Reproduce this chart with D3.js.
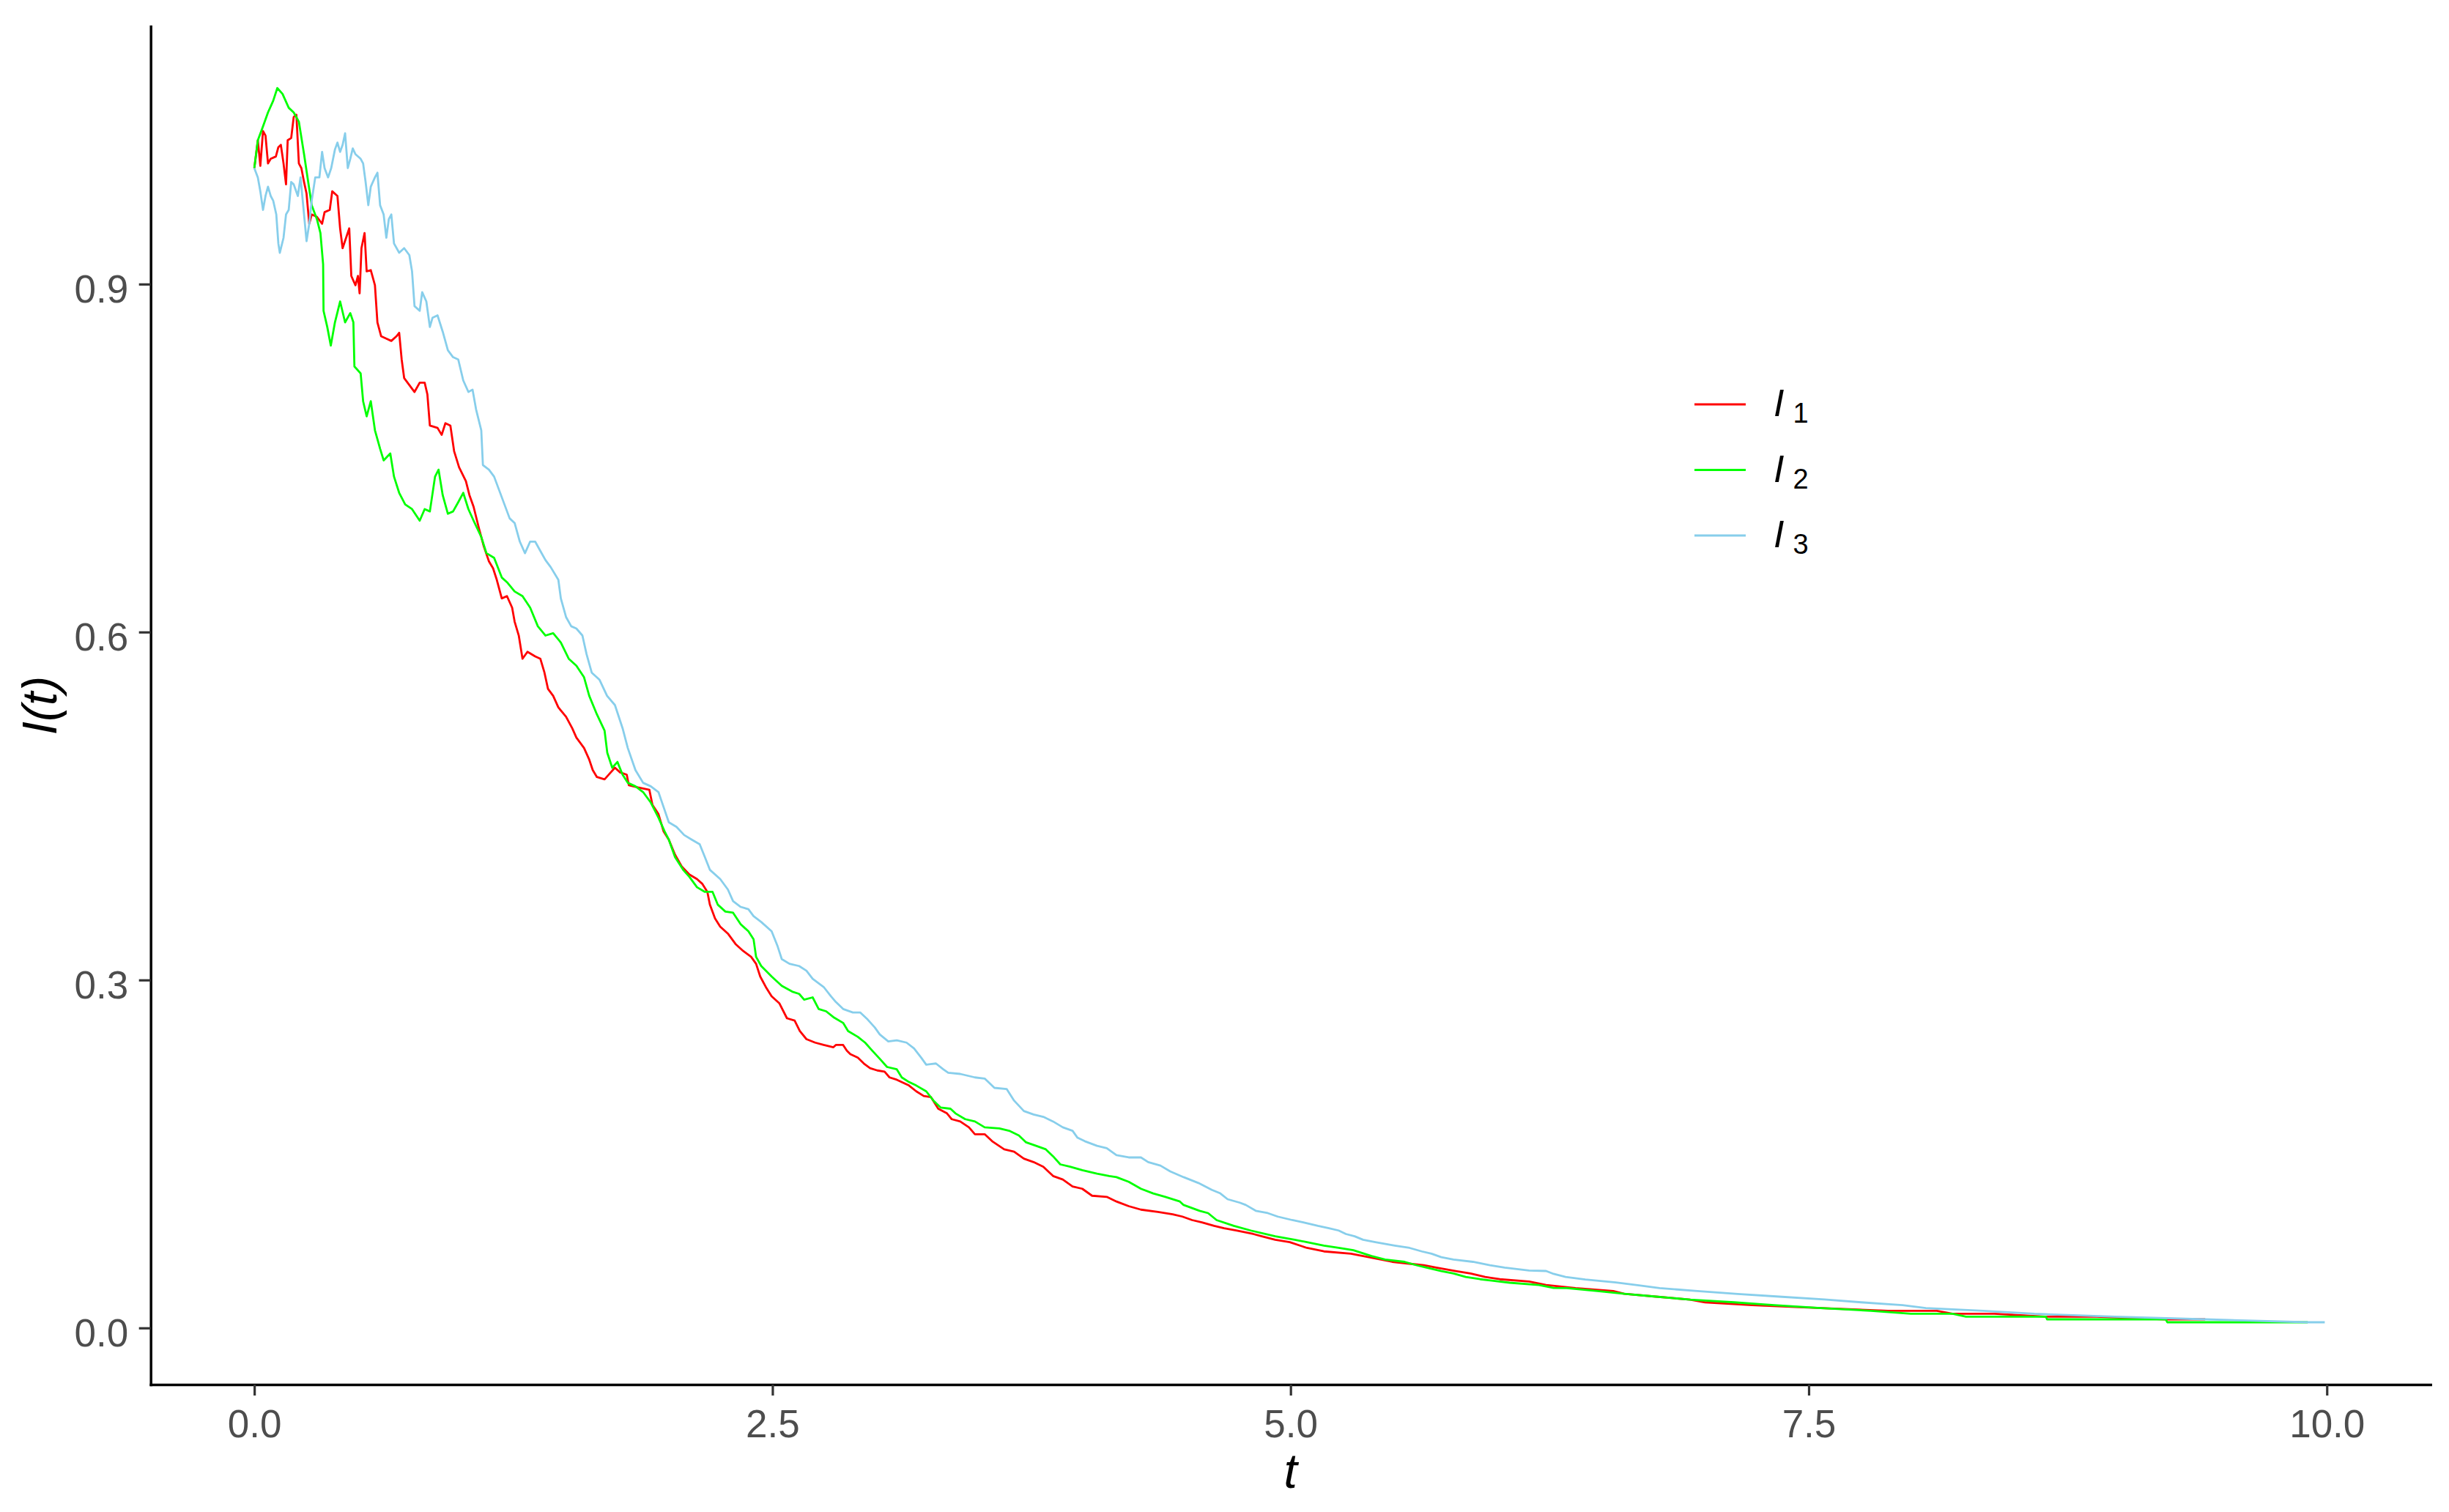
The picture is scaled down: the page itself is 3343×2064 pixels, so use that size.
<!DOCTYPE html>
<html>
<head>
<meta charset="utf-8">
<script src="https://cdn.jsdelivr.net/npm/d3@7"></script>
<style>
  body { margin: 0; background: #fff; }
  text { font-family: "Liberation Sans", Arial, sans-serif; }
</style>
</head>
<body>
<svg id="chart"></svg>
<script>
// values, [t, I(t)]
var seriesI1 = [[0,1.000],[0.017,1.024],[0.029,1.002],[0.042,1.032],[0.054,1.028],[0.066,1.004],[0.079,1.008],[0.104,1.010],[0.116,1.018],[0.128,1.020],[0.141,1.004],[0.153,0.986],[0.161,1.024],[0.178,1.026],[0.190,1.044],[0.203,1.046],[0.215,1.004],[0.227,1.000],[0.240,0.988],[0.252,0.978],[0.265,0.952],[0.277,0.960],[0.302,0.958],[0.327,0.952],[0.339,0.962],[0.364,0.964],[0.376,0.980],[0.401,0.976],[0.414,0.948],[0.426,0.931],[0.443,0.940],[0.458,0.948],[0.468,0.907],[0.488,0.899],[0.500,0.907],[0.508,0.892],[0.517,0.931],[0.532,0.944],[0.542,0.911],[0.562,0.912],[0.582,0.899],[0.594,0.867],[0.612,0.855],[0.637,0.853],[0.661,0.851],[0.686,0.855],[0.699,0.858],[0.711,0.835],[0.723,0.819],[0.748,0.813],[0.773,0.807],[0.798,0.815],[0.822,0.815],[0.835,0.805],[0.847,0.778],[0.884,0.776],[0.904,0.770],[0.922,0.780],[0.946,0.778],[0.964,0.756],[0.988,0.742],[1.021,0.730],[1.038,0.718],[1.058,0.708],[1.083,0.690],[1.107,0.674],[1.132,0.661],[1.152,0.655],[1.170,0.645],[1.194,0.629],[1.219,0.631],[1.244,0.621],[1.256,0.609],[1.276,0.597],[1.294,0.577],[1.318,0.583],[1.355,0.579],[1.380,0.577],[1.400,0.565],[1.417,0.551],[1.442,0.545],[1.467,0.535],[1.504,0.527],[1.534,0.517],[1.554,0.509],[1.591,0.500],[1.616,0.490],[1.633,0.481],[1.653,0.475],[1.690,0.473],[1.715,0.478],[1.740,0.483],[1.765,0.479],[1.797,0.477],[1.807,0.468],[1.851,0.466],[1.906,0.464],[1.921,0.451],[1.950,0.443],[1.975,0.428],[2.000,0.421],[2.030,0.408],[2.062,0.398],[2.099,0.391],[2.136,0.387],[2.161,0.383],[2.186,0.376],[2.198,0.365],[2.223,0.353],[2.248,0.346],[2.285,0.340],[2.322,0.331],[2.359,0.325],[2.397,0.320],[2.421,0.314],[2.441,0.303],[2.471,0.293],[2.496,0.286],[2.533,0.280],[2.570,0.267],[2.607,0.265],[2.632,0.256],[2.664,0.249],[2.706,0.246],[2.747,0.244],[2.794,0.242],[2.806,0.244],[2.841,0.244],[2.859,0.239],[2.876,0.236],[2.912,0.233],[2.941,0.228],[2.971,0.224],[3.006,0.222],[3.041,0.221],[3.065,0.216],[3.100,0.214],[3.159,0.209],[3.194,0.204],[3.230,0.200],[3.265,0.199],[3.300,0.189],[3.342,0.185],[3.365,0.180],[3.406,0.178],[3.448,0.173],[3.477,0.167],[3.524,0.167],[3.560,0.161],[3.618,0.154],[3.666,0.152],[3.713,0.146],[3.760,0.143],[3.807,0.139],[3.854,0.131],[3.901,0.128],[3.948,0.122],[3.995,0.120],[4.042,0.114],[4.113,0.113],[4.160,0.109],[4.219,0.105],[4.278,0.102],[4.360,0.100],[4.431,0.098],[4.478,0.096],[4.525,0.093],[4.572,0.091],[4.631,0.088],[4.679,0.086],[4.737,0.084],[4.820,0.081],[4.861,0.079],[4.926,0.076],[4.996,0.074],[5.079,0.069],[5.161,0.066],[5.291,0.064],[5.350,0.062],[5.491,0.057],[5.644,0.054],[5.703,0.052],[5.797,0.049],[5.868,0.047],[5.939,0.044],[6.010,0.042],[6.151,0.040],[6.233,0.037],[6.375,0.0343],[6.557,0.0318],[6.610,0.0295],[6.763,0.0270],[6.928,0.0244],[7.000,0.0221],[7.228,0.0196],[7.558,0.0171],[7.882,0.0148],[8.118,0.0148],[8.194,0.0122],[8.395,0.0122],[8.645,0.0097],[8.889,0.0097],[9.223,0.0074],[9.413,0.0074]];

var seriesI2 = [[0,1.000],[0.017,1.024],[0.042,1.036],[0.066,1.048],[0.091,1.058],[0.111,1.069],[0.136,1.064],[0.166,1.052],[0.190,1.048],[0.215,1.040],[0.240,1.012],[0.260,0.988],[0.277,0.968],[0.302,0.956],[0.319,0.944],[0.332,0.917],[0.334,0.877],[0.352,0.863],[0.369,0.847],[0.389,0.867],[0.414,0.885],[0.438,0.867],[0.463,0.875],[0.478,0.867],[0.483,0.829],[0.513,0.823],[0.525,0.799],[0.542,0.786],[0.562,0.799],[0.582,0.774],[0.607,0.758],[0.624,0.748],[0.656,0.754],[0.674,0.734],[0.699,0.720],[0.728,0.710],[0.761,0.706],[0.798,0.696],[0.822,0.706],[0.847,0.704],[0.872,0.734],[0.889,0.740],[0.909,0.718],[0.934,0.702],[0.959,0.704],[0.984,0.712],[1.008,0.720],[1.033,0.706],[1.058,0.696],[1.095,0.682],[1.120,0.668],[1.157,0.664],[1.194,0.647],[1.219,0.643],[1.256,0.635],[1.294,0.631],[1.331,0.621],[1.368,0.605],[1.405,0.597],[1.442,0.599],[1.479,0.591],[1.517,0.577],[1.554,0.571],[1.591,0.561],[1.616,0.545],[1.653,0.529],[1.690,0.515],[1.703,0.496],[1.727,0.483],[1.752,0.488],[1.777,0.477],[1.802,0.470],[1.839,0.467],[1.876,0.462],[1.913,0.453],[1.950,0.440],[1.980,0.428],[2.000,0.421],[2.030,0.406],[2.069,0.395],[2.099,0.389],[2.136,0.380],[2.174,0.376],[2.211,0.376],[2.236,0.365],[2.273,0.359],[2.310,0.358],[2.347,0.348],[2.384,0.342],[2.409,0.335],[2.421,0.320],[2.446,0.312],[2.496,0.303],[2.545,0.295],[2.595,0.290],[2.629,0.288],[2.653,0.283],[2.694,0.285],[2.723,0.275],[2.759,0.273],[2.794,0.268],[2.841,0.263],[2.865,0.256],[2.912,0.251],[2.947,0.246],[2.982,0.239],[3.018,0.232],[3.053,0.225],[3.100,0.223],[3.124,0.216],[3.159,0.212],[3.194,0.209],[3.242,0.204],[3.277,0.196],[3.312,0.190],[3.359,0.189],[3.383,0.185],[3.430,0.180],[3.477,0.178],[3.524,0.173],[3.595,0.172],[3.642,0.170],[3.689,0.166],[3.724,0.160],[3.772,0.157],[3.819,0.154],[3.854,0.148],[3.889,0.141],[3.936,0.139],[3.995,0.136],[4.066,0.133],[4.125,0.131],[4.160,0.130],[4.219,0.126],[4.278,0.120],[4.337,0.116],[4.396,0.113],[4.466,0.109],[4.484,0.106],[4.561,0.101],[4.602,0.099],[4.643,0.093],[4.726,0.088],[4.808,0.084],[4.926,0.079],[5.020,0.076],[5.079,0.074],[5.161,0.071],[5.232,0.069],[5.303,0.067],[5.391,0.062],[5.456,0.059],[5.550,0.057],[5.609,0.054],[5.656,0.052],[5.727,0.049],[5.786,0.047],[5.845,0.044],[5.915,0.042],[6.057,0.039],[6.198,0.037],[6.269,0.0345],[6.333,0.0343],[6.481,0.0318],[6.610,0.0295],[6.763,0.0270],[6.928,0.0244],[7.140,0.0221],[7.334,0.0196],[7.558,0.0171],[7.800,0.0148],[7.994,0.0122],[8.194,0.0122],[8.259,0.0097],[8.645,0.0097],[8.650,0.0074],[9.223,0.0074],[9.230,0.0049],[9.908,0.0049]];

var seriesI3 = [[0,1.000],[0.017,0.992],[0.029,0.980],[0.042,0.964],[0.054,0.976],[0.066,0.984],[0.079,0.976],[0.091,0.972],[0.106,0.960],[0.116,0.935],[0.123,0.927],[0.141,0.940],[0.153,0.960],[0.166,0.964],[0.178,0.988],[0.190,0.986],[0.210,0.976],[0.223,0.992],[0.240,0.960],[0.252,0.937],[0.265,0.952],[0.277,0.972],[0.294,0.992],[0.314,0.992],[0.327,1.014],[0.339,1.000],[0.356,0.992],[0.371,1.000],[0.389,1.016],[0.401,1.022],[0.414,1.014],[0.426,1.020],[0.438,1.030],[0.451,1.000],[0.463,1.008],[0.475,1.017],[0.488,1.012],[0.513,1.008],[0.525,1.004],[0.537,0.988],[0.550,0.968],[0.562,0.984],[0.582,0.992],[0.594,0.996],[0.607,0.968],[0.624,0.960],[0.637,0.940],[0.649,0.956],[0.661,0.960],[0.674,0.935],[0.699,0.927],[0.723,0.931],[0.748,0.925],[0.761,0.911],[0.773,0.881],[0.798,0.877],[0.810,0.893],[0.830,0.885],[0.847,0.863],[0.860,0.871],[0.884,0.873],[0.909,0.859],[0.934,0.843],[0.959,0.837],[0.984,0.835],[1.008,0.817],[1.033,0.807],[1.053,0.809],[1.070,0.792],[1.095,0.774],[1.103,0.744],[1.132,0.740],[1.157,0.734],[1.182,0.722],[1.207,0.710],[1.232,0.698],[1.256,0.694],[1.281,0.678],[1.306,0.668],[1.331,0.678],[1.355,0.678],[1.380,0.670],[1.405,0.662],[1.430,0.656],[1.467,0.645],[1.479,0.629],[1.504,0.613],[1.529,0.605],[1.554,0.603],[1.583,0.597],[1.603,0.581],[1.628,0.565],[1.665,0.559],[1.702,0.545],[1.740,0.537],[1.777,0.517],[1.802,0.500],[1.839,0.481],[1.876,0.470],[1.913,0.467],[1.950,0.462],[1.975,0.449],[2.000,0.436],[2.037,0.432],[2.074,0.425],[2.111,0.421],[2.149,0.417],[2.174,0.406],[2.198,0.395],[2.248,0.387],[2.285,0.378],[2.310,0.368],[2.347,0.363],[2.384,0.361],[2.409,0.355],[2.446,0.350],[2.496,0.342],[2.525,0.329],[2.545,0.318],[2.582,0.314],[2.629,0.312],[2.664,0.308],[2.694,0.301],[2.747,0.294],[2.782,0.286],[2.806,0.281],[2.841,0.275],[2.888,0.272],[2.923,0.272],[2.959,0.266],[2.994,0.259],[3.018,0.253],[3.059,0.247],[3.100,0.248],[3.147,0.246],[3.183,0.241],[3.218,0.233],[3.242,0.227],[3.289,0.228],[3.324,0.223],[3.348,0.220],[3.406,0.219],[3.477,0.216],[3.524,0.215],[3.571,0.207],[3.630,0.206],[3.666,0.196],[3.713,0.187],[3.760,0.184],[3.807,0.182],[3.854,0.178],[3.901,0.173],[3.948,0.170],[3.972,0.164],[4.007,0.161],[4.066,0.157],[4.113,0.155],[4.160,0.149],[4.219,0.147],[4.278,0.147],[4.313,0.143],[4.372,0.140],[4.419,0.135],[4.484,0.130],[4.555,0.125],[4.620,0.119],[4.661,0.116],[4.696,0.111],[4.755,0.108],[4.784,0.106],[4.832,0.101],[4.890,0.099],[4.938,0.096],[5.008,0.093],[5.061,0.091],[5.132,0.088],[5.185,0.086],[5.232,0.084],[5.267,0.081],[5.309,0.079],[5.350,0.076],[5.409,0.074],[5.503,0.071],[5.574,0.069],[5.633,0.066],[5.680,0.064],[5.727,0.061],[5.786,0.059],[5.880,0.057],[5.962,0.054],[6.033,0.052],[6.151,0.0495],[6.233,0.0491],[6.269,0.0466],[6.327,0.0440],[6.422,0.0417],[6.569,0.0392],[6.681,0.0367],[6.781,0.0343],[6.963,0.0318],[7.158,0.0293],[7.358,0.0270],[7.576,0.0245],[7.753,0.0221],[7.953,0.0196],[8.065,0.0171],[8.342,0.0148],[8.589,0.0122],[8.978,0.0097],[9.413,0.0074],[9.908,0.0049],[9.990,0.0049]];

var seriesNames = ['1', '2', '3'];             // subscripts of I in the legend
var seriesColors = ['#ff0000', '#00ff00', '#87ceeb'];
var xTicks = [0, 2.5, 5, 7.5, 10];
var yTicks = [0, 0.3, 0.6, 0.9];

var width = 3343, height = 2064;
var plotLeft = 205.7, plotRight = 3317.7, plotTop = 36, plotBottom = 1890;

var svg = d3.select('#chart')
    .attr('width', width)
    .attr('height', height);

// ggplot style limits: data range plus 5% each side
var x = d3.scaleLinear().domain([-0.5, 10.5]).range([plotLeft, plotRight]);
var y = d3.scaleLinear().domain([-0.0488, 1.1222]).range([plotBottom, plotTop]);

var line = d3.line()
    .x(d => x(d[0]))
    .y(d => y(d[1]));

// the three paths, drawn in legend order
svg.append('g')
    .attr('fill', 'none')
    .attr('stroke-width', 2.8)
    .attr('stroke-linejoin', 'round')
    .selectAll('path')
    .data([seriesI1, seriesI2, seriesI3])
    .join('path')
    .attr('stroke', (d, i) => seriesColors[i])
    .attr('d', line);

// axes
var xAxis = svg.append('g')
    .attr('transform', `translate(0,${plotBottom})`)
    .call(d3.axisBottom(x).tickValues(xTicks).tickFormat(d3.format('.1f')).tickSize(15).tickSizeOuter(0).tickPadding(19));

var yAxis = svg.append('g')
    .attr('transform', `translate(${plotLeft},0)`)
    .call(d3.axisLeft(y).tickValues(yTicks).tickFormat(d3.format('.1f')).tickSize(16).tickSizeOuter(0).tickPadding(14.5));

[xAxis, yAxis].forEach(function (g) {
    g.select('.domain')
        .attr('stroke', '#000')
        .attr('stroke-width', 3.5)
        .attr('stroke-linecap', 'square');
    g.selectAll('.tick line')
        .attr('stroke', '#333333')
        .attr('stroke-width', 3.2);
    g.selectAll('.tick text')
        .attr('fill', '#4d4d4d')
        .style('font-size', '53px')
        .style('font-family', '"Liberation Sans", Arial, sans-serif');
});
yAxis.selectAll('.tick text').attr('dy', '0.47em');

// axis titles
svg.append('text')
    .attr('x', (plotLeft + plotRight) / 2)
    .attr('y', 2031)
    .attr('text-anchor', 'middle')
    .style('font-size', '66px')
    .style('font-style', 'italic')
    .text('t');

svg.append('text')
    .attr('transform', `translate(77,${(plotTop + plotBottom) / 2}) rotate(-90)`)
    .attr('text-anchor', 'middle')
    .style('font-size', '66px')
    .style('font-style', 'italic')
    .text('I(t)');

// legend with a line key and I with subscript
var legend = svg.append('g')
    .attr('transform', 'translate(2313,552)')
    .selectAll('g')
    .data(seriesNames)
    .join('g')
    .attr('transform', (d, i) => `translate(0,${i * 89.5})`);

legend.append('line')
    .attr('x1', 0)
    .attr('x2', 70)
    .attr('stroke', (d, i) => seriesColors[i])
    .attr('stroke-width', 3.2);

var label = legend.append('text')
    .attr('x', 108)
    .attr('y', 16)
    .style('font-size', '52px');
label.append('tspan')
    .style('font-style', 'italic')
    .text('I');
label.append('tspan')
    .attr('dx', 12)
    .attr('dy', 9)
    .style('font-size', '38px')
    .text(d => d);
</script>
</body>
</html>
